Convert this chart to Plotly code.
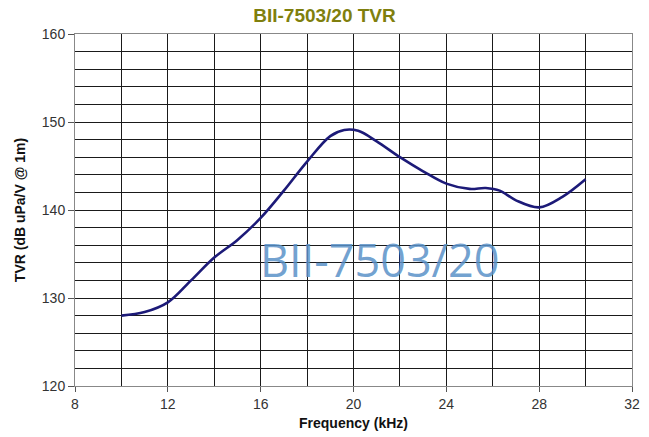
import plotly.graph_objects as go

freq_khz = [10, 11, 12, 13, 14, 15, 16, 17, 18, 19, 19.6, 20.2, 21, 22, 23, 24, 25, 25.7, 26.3, 27, 28, 29, 30]
tvr_db = [128.0, 128.4, 129.5, 132.0, 134.6, 136.6, 139.1, 142.2, 145.5, 148.4, 149.1, 149.0, 147.8, 146.0, 144.4, 143.0, 142.4, 142.5, 142.2, 141.1, 140.3, 141.5, 143.5]

x_ticks = [8, 12, 16, 20, 24, 28, 32]
y_ticks = [120, 130, 140, 150, 160]

fig = go.Figure()
fig.add_trace(go.Scatter(
    x=freq_khz, y=tvr_db, mode="lines",
    line=dict(color="#1c1a78", width=2.6, shape="spline", smoothing=1.0),
    showlegend=False, hoverinfo="skip"))

fig.add_annotation(
    text="BII-7503/20", xref="paper", yref="paper", x=0.548, y=0.36,
    showarrow=False, font=dict(family="Open Sans, Liberation Sans", size=45, color="rgba(90,145,200,0.85)"))

fig.update_layout(
    width=649, height=437,
    margin=dict(l=75, r=17, t=34, b=51),
    paper_bgcolor="white", plot_bgcolor="white",
    title=dict(text="<b>BII-7503/20 TVR</b>", x=0.5, xanchor="center", y=0.965, yanchor="middle",
               font=dict(family="Liberation Sans, Arial", size=19, color="#7f7f0e")),
    font=dict(family="Liberation Sans, Arial", size=14, color="#333"),
)
fig.update_xaxes(
    range=[8, 32], tickvals=x_ticks, ticks="outside", ticklen=5, tickcolor="#555",
    showgrid=True, gridcolor="#1a1a1a", gridwidth=1,
    minor=dict(dtick=2, showgrid=True, gridcolor="#1a1a1a", gridwidth=1),
    showline=True, linecolor="#888", linewidth=1, mirror=True, zeroline=False,
    automargin=False,
    title=dict(text="<b>Frequency (kHz)</b>", font=dict(size=14, color="#111"), standoff=7),
)
fig.update_yaxes(
    range=[120, 160], tickvals=y_ticks, ticks="outside", ticklen=6, tickcolor="#555",
    showgrid=True, gridcolor="#1a1a1a", gridwidth=1,
    minor=dict(dtick=2, showgrid=True, gridcolor="#1a1a1a", gridwidth=1),
    showline=True, linecolor="#888", linewidth=1, mirror=True, zeroline=False,
    automargin=False,
    title=dict(text="<b>TVR (dB uPa/V @ 1m)</b>", font=dict(size=14, color="#111"), standoff=12),
)

fig.write_html("out.html", config={"displayModeBar": False},
               post_script="document.body.style.margin='0';document.body.style.overflow='hidden';")
